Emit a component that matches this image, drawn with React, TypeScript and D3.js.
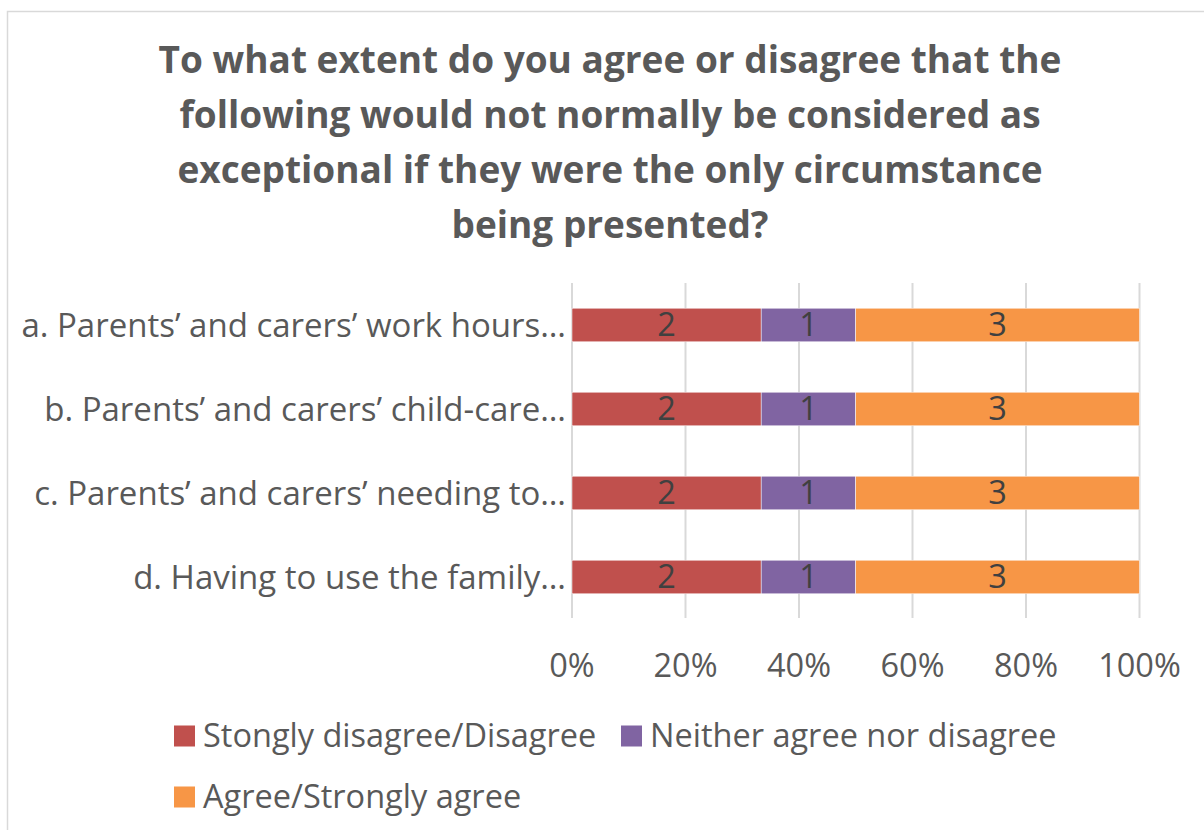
import React from "react";
import * as d3 from "d3";

const TITLE_LINES = [
  "To what extent do you agree or disagree that the",
  "following would not normally be considered as",
  "exceptional if they were the only circumstance",
  "being presented?",
];

const categories = [
  "a. Parents’ and carers’ work hours…",
  "b. Parents’ and carers’ child-care…",
  "c. Parents’ and carers’ needing to…",
  "d. Having to use the family…",
];

const seriesNames = [
  "Stongly disagree/Disagree",
  "Neither agree nor disagree",
  "Agree/Strongly agree",
];
const seriesColors = ["#C0504D", "#8064A2", "#F79646"];

// counts per category, one array per series
const disagree = [2, 2, 2, 2];
const neither = [1, 1, 1, 1];
const agree = [3, 3, 3, 3];

const tickValues = [0, 0.2, 0.4, 0.6, 0.8, 1];

const W = 1204;
const H = 830;
const FONT = "'Open Sans', sans-serif";
const TEXT = "#595959";
const FS = 32.5;

export default function App() {
  const rows = categories.map((c, i) => {
    const vals = [disagree[i], neither[i], agree[i]];
    const total = d3.sum(vals);
    let acc = 0;
    const segs = vals.map((v, k) => {
      const s = { k, v, x0: acc / total, x1: (acc + v) / total };
      acc += v;
      return s;
    });
    return { c, segs };
  });

  const x = d3.scaleLinear().domain([0, 1]).range([572, 1139.5]);
  const y = d3
    .scaleBand<string>()
    .domain(categories)
    .range([283, 619])
    .paddingInner(0.6)
    .paddingOuter(0.3);

  const fmt = d3.format(".0%");

  return (
    <svg
      width={W}
      height={H}
      style={{ position: "absolute", left: 0, top: 0, background: "#fff" }}
      fontFamily={FONT}
    >
      <rect x={7.5} y={11.5} width={W} height={H} fill="#fff" stroke="#D9D9D9" strokeWidth={1.5} />

      {TITLE_LINES.map((t, i) => (
        <text
          key={i}
          x={610}
          y={73 + i * 55}
          textAnchor="middle"
          fontSize={37}
          fontWeight="bold"
          fill={TEXT}
        >
          {t}
        </text>
      ))}

      {tickValues.map((t) => (
        <g key={t}>
          <line x1={x(t)} x2={x(t)} y1={283} y2={618} stroke="#D9D9D9" strokeWidth={2} />
          <text x={x(t)} y={677} textAnchor="middle" fontSize={FS} fill={TEXT}>
            {fmt(t)}
          </text>
        </g>
      ))}

      {rows.map((r) => (
        <g key={r.c}>
          <text
            x={566}
            y={(y(r.c) as number) + y.bandwidth() / 2}
            dy="0.35em"
            textAnchor="end"
            fontSize={33}
            fill={TEXT}
          >
            {r.c}
          </text>
          {r.segs.map((s) => (
            <g key={s.k}>
              <rect
                x={x(s.x0)}
                y={y(r.c)}
                width={x(s.x1) - x(s.x0)}
                height={y.bandwidth()}
                fill={seriesColors[s.k]}
                stroke="#fff"
                strokeWidth={0.5}
              />
              <text
                x={(x(s.x0) + x(s.x1)) / 2}
                y={(y(r.c) as number) + y.bandwidth() / 2}
                dy="0.35em"
                textAnchor="middle"
                fontSize={FS}
                fill="#404040"
              >
                {s.v}
              </text>
            </g>
          ))}
        </g>
      ))}

      {seriesNames.map((n, i) => {
        const lx = [174, 621, 174][i];
        const ly = [736, 736, 797][i];
        return (
          <g key={n}>
            <rect x={lx} y={ly - 10.5} width={21} height={21} fill={seriesColors[i]} />
            <text x={lx + 29} y={ly} dy="0.35em" fontSize={FS} fill={TEXT}>
              {n}
            </text>
          </g>
        );
      })}
    </svg>
  );
}
